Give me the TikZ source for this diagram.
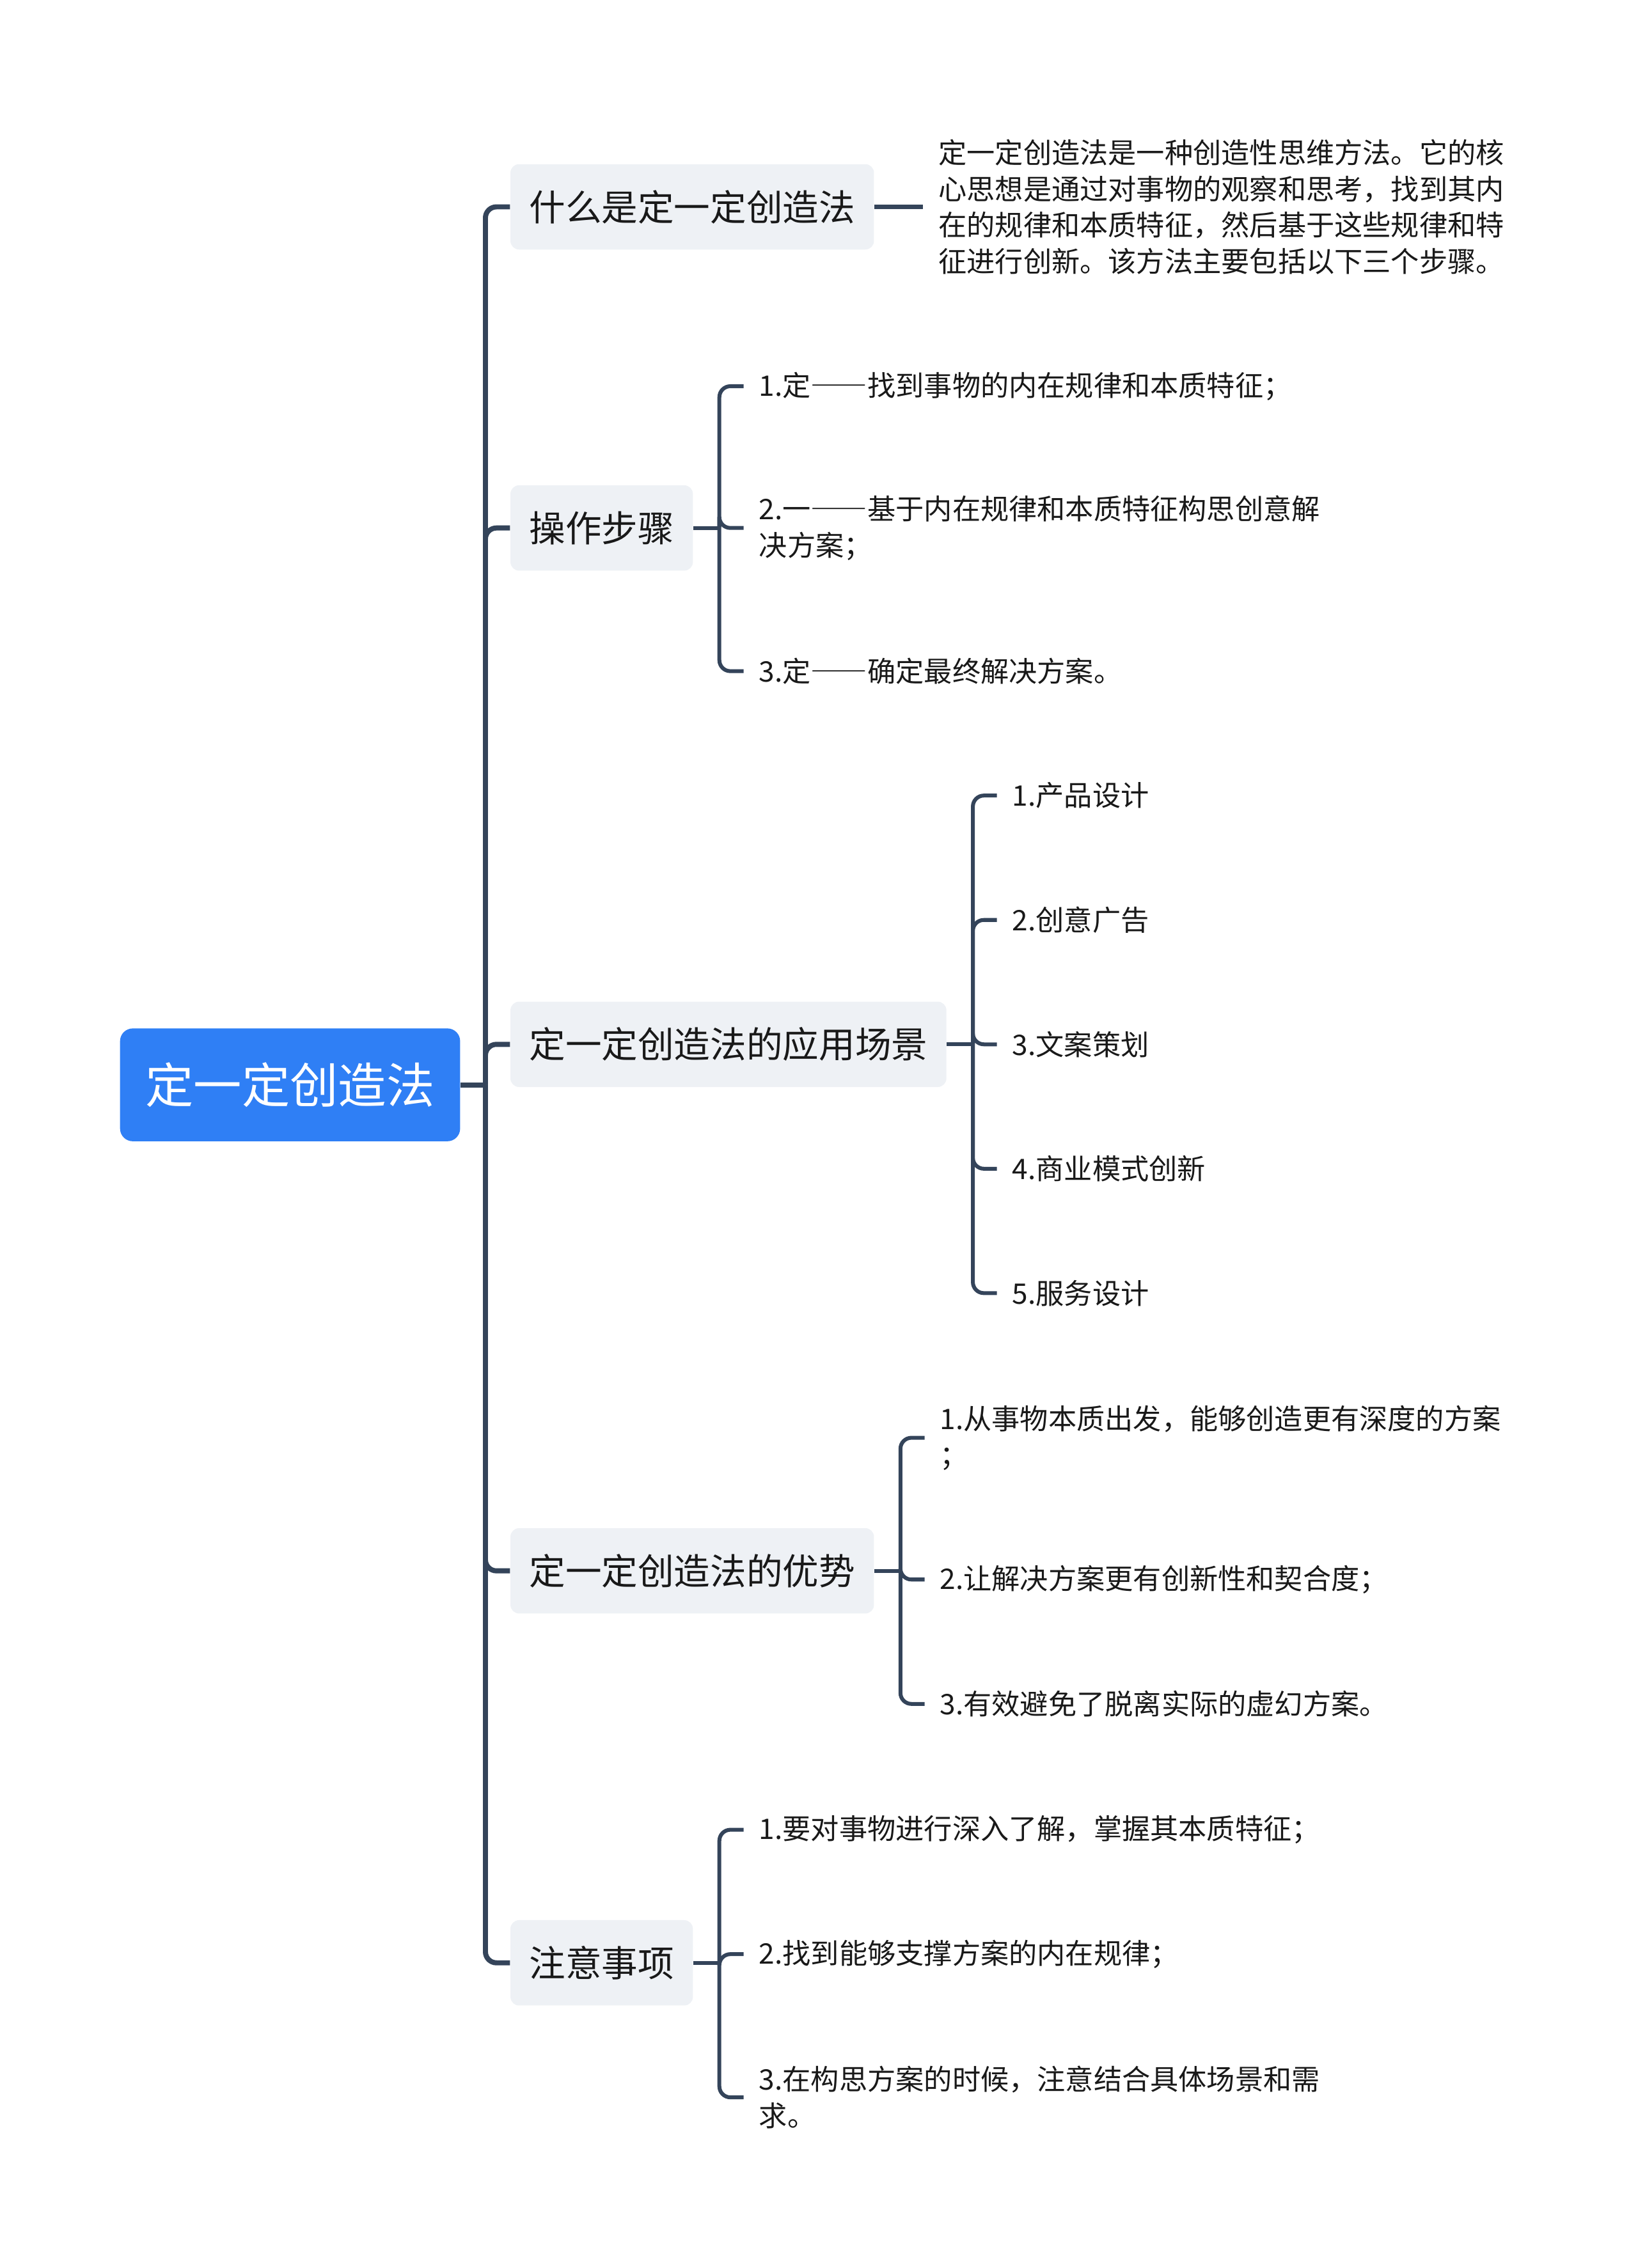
\documentclass[tikz,border=0pt]{standalone}
\usepackage{fontspec}
\setmainfont{Noto Sans CJK SC}
\newcommand{\fdash}{{\addfontfeature{CharacterWidth=Full}——}}
\definecolor{rootblue}{HTML}{2F7FF5}
\definecolor{boxgray}{HTML}{EEF1F5}
\definecolor{linedark}{HTML}{34445A}
\begin{document}
\begin{tikzpicture}[x=0.025cm, y=-0.025cm,
	rt/.style={fill=rootblue, text=white, rounded corners=2.2mm, minimum width=5.875cm, minimum height=1.95cm, font=\fontsize{23.7}{28}\selectfont},
	br/.style={fill=boxgray, text=black!90, rounded corners=1.5mm, anchor=west, minimum height=1.475cm, inner xsep=3.25mm, font=\fontsize{17.8}{21}\selectfont},
	lf/.style={anchor=west, align=left, text=black!90, inner xsep=2.6mm, inner ysep=0pt, font=\fontsize{13.9}{17.8}\selectfont},
	ln/.style={draw=linedark, line width=2.5pt},
	sln/.style={draw=linedark, line width=1.9pt, rounded corners=1.9mm}]
	\useasboundingbox (0,0) rectangle (1132,1568);
	\node[rt] (root) at (200.5,750) {定一定创造法};
	\node[br] (what) at (352.5,143) {什么是定一定创造法};
	\node[br] (steps) at (352.5,365) {操作步骤};
	\node[br] (use) at (352.5,722) {定一定创造法的应用场景};
	\node[br] (adv) at (352.5,1086) {定一定创造法的优势};
	\node[br] (note) at (352.5,1357) {注意事项};
	\node[lf] (def) at (638,143) {定一定创造法是一种创造性思维方法。它的核\\心思想是通过对事物的观察和思考，找到其内\\在的规律和本质特征，然后基于这些规律和特\\征进行创新。该方法主要包括以下三个步骤。};
	\node[lf] (st1) at (514,267) {1.定\fdash 找到事物的内在规律和本质特征；};
	\node[lf] (st2) at (514,365) {2.一\fdash 基于内在规律和本质特征构思创意解\\决方案；};
	\node[lf] (st3) at (514,464) {3.定\fdash 确定最终解决方案。};
	\node[lf] (us1) at (689,550) {1.产品设计};
	\node[lf] (us2) at (689,636) {2.创意广告};
	\node[lf] (us3) at (689,722) {3.文案策划};
	\node[lf] (us4) at (689,808) {4.商业模式创新};
	\node[lf] (us5) at (689,894) {5.服务设计};
	\node[lf] (ad1) at (639,994) {1.从事物本质出发，能够创造更有深度的方案\\；};
	\node[lf] (ad2) at (639,1092) {2.让解决方案更有创新性和契合度；};
	\node[lf] (ad3) at (639,1178) {3.有效避免了脱离实际的虚幻方案。};
	\node[lf] (nt1) at (514,1265) {1.要对事物进行深入了解，掌握其本质特征；};
	\node[lf] (nt2) at (514,1351) {2.找到能够支撑方案的内在规律；};
	\node[lf] (nt3) at (514,1450) {3.在构思方案的时候，注意结合具体场景和需\\求。};
	\draw[ln] (root.east) -- ([xshift=4.3mm]root.east) coordinate (rj);
	\foreach \n in {what,steps,use,adv,note}
		\draw[ln, rounded corners=1.9mm] (rj) |- (\n.west);
	\draw[sln] (what.east) -- (def.west);
	\draw[sln] (steps.east) -- ++(4.5mm,0) coordinate (sj);
	\foreach \n in {st1,st2,st3}
		\draw[sln] (sj) |- (\n.west);
	\draw[sln] (use.east) -- ++(4.5mm,0) coordinate (uj);
	\foreach \n in {us1,us2,us3,us4,us5}
		\draw[sln] (uj) |- (\n.west);
	\draw[sln] (adv.east) -- ++(4.5mm,0) coordinate (aj);
	\foreach \n in {ad1,ad2,ad3}
		\draw[sln] (aj) |- (\n.west);
	\draw[sln] (note.east) -- ++(4.5mm,0) coordinate (nj);
	\foreach \n in {nt1,nt2,nt3}
		\draw[sln] (nj) |- (\n.west);
\end{tikzpicture}
\end{document}
